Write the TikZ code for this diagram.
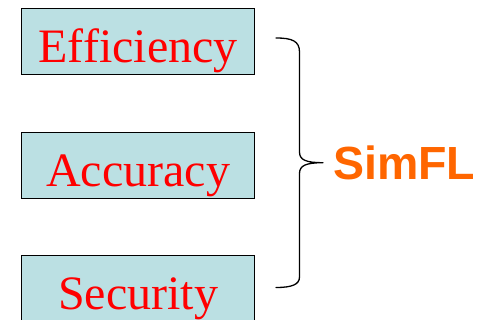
\documentclass[tikz,border=0pt]{standalone}
\usepackage{fontspec}
\setmainfont{Liberation Serif}
\newfontfamily\headfont{Liberation Sans}
\definecolor{boxfill}{RGB}{187,224,227}
\definecolor{simorange}{RGB}{255,102,0}
\tikzset{
  goalbox/.style={draw=black, line width=1.2pt, fill=boxfill, inner sep=0pt,
    minimum width=233pt, text height=54pt, text depth=12pt, anchor=north west,
    text=red, font=\fontsize{48}{56}\selectfont},
  bracepath/.style={draw=black, line width=1.3pt, line cap=round, line join=round},
  titletext/.style={text=simorange, inner sep=0pt, anchor=base west,
    font=\headfont\bfseries\fontsize{46.5}{54}\selectfont}
}
\begin{document}
\begin{tikzpicture}[x=1pt,y=-1pt]
  \useasboundingbox (0,0) rectangle (490,320);
  \clip (0,0) rectangle (490,320);
  % the three goals
  \node[goalbox] (eff) at (21,8)   {Efficiency};
  \node[goalbox] (acc) at (21,132) {Accuracy};
  \node[goalbox] (sec) at (21,255) {Security};
  % right curly brace grouping them
  \coordinate (btop) at (276,38);
  \coordinate (btip) at (323,162.7);
  \coordinate (bbot) at (276,287.5);
  \path[bracepath] (btop)
    .. controls (292,38) and (299.5,41) .. (299.5,52)
    -- (299.5,152)
    .. controls (299.5,160) and (306,162.7) .. (btip)
    .. controls (306,162.7) and (299.5,165.5) .. (299.5,173.5)
    -- (299.5,277)
    .. controls (299.5,284.5) and (292,287.5) .. (bbot);
  % name of the method
  \node[titletext] (sim) at (333,180) {SimFL};
\end{tikzpicture}
\end{document}
